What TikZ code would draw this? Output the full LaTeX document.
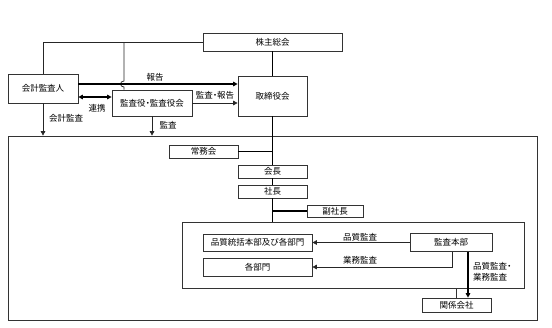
\documentclass[tikz,border=0pt]{standalone}
\usepackage{fontspec}
\setmainfont{Noto Sans CJK JP}
\usetikzlibrary{arrows.meta}
\newcommand{\fs}{\fontsize{8.5}{10.5}\selectfont}
\newcommand{\nd}{\makebox[0.5em]{・}}
\begin{document}
\begin{tikzpicture}[x=1pt,y=-1pt,
  box/.style={draw=black!80, line width=0.7pt, inner sep=0pt, font=\fs, align=center},
  conn/.style={line width=1.1pt},
  thinconn/.style={line width=0.75pt, draw=black!85},
  arr/.style={conn, -{Triangle[length=4.5pt,width=4.5pt]}},
  thinarr/.style={thinconn, -{Triangle[length=4.5pt,width=4.5pt]}},
  dblarr/.style={conn, {Triangle[length=4.5pt,width=4.5pt]}-{Triangle[length=4.5pt,width=4.5pt]}},
  lbl/.style={font=\fs, inner sep=0pt, align=left}]
\useasboundingbox (0,0) rectangle (552,327);
% frames
\node[box, minimum width=529pt, minimum height=184pt] (big) at (272.5,228) {};
\node[box, minimum width=342pt, minimum height=66pt] (inner) at (353,255) {};
% boxes
\node[box, minimum width=139pt, minimum height=18pt] (kabu) at (272.5,42) {株主総会};
\node[box, minimum width=70pt, minimum height=29pt] (kaikei) at (43,88.5) {会計監査人};
\node[box, minimum width=80pt, minimum height=26pt] (kansa) at (152,103) {監査役\nd 監査役会};
\node[box, minimum width=69pt, minimum height=40pt] (tori) at (272.5,96) {取締役会};
\node[box, minimum width=69pt, minimum height=13pt] (jomu) at (203.5,151.5) {常務会};
\node[box, minimum width=69pt, minimum height=13pt] (kaicho) at (272.5,171.5) {会長};
\node[box, minimum width=69pt, minimum height=13pt] (shacho) at (272.5,191.5) {社長};
\node[box, minimum width=56pt, minimum height=12pt] (fuku) at (335,211) {副社長};
\node[box, minimum width=109pt, minimum height=17pt] (hinshitsu) at (257.5,242.5) {品質統括本部及び各部門};
\node[box, minimum width=109pt, minimum height=18pt] (kakubu) at (257.5,267) {各部門};
\node[box, minimum width=82pt, minimum height=18pt] (honbu) at (451,242.5) {監査本部};
\node[box, minimum width=69pt, minimum height=14pt] (kankei) at (456.5,305) {関係会社};
% helper coordinates
\coordinate (y84) at (0,84);
\coordinate (y97) at (0,97);
\coordinate (hb) at (124,42);
\coordinate (hopA) at (124,81);
\coordinate (hopB) at (124,87);
% top connections
\draw[thinconn] (kabu.west) -| (kaikei.north);
\draw[thinconn] (hb) -- (hopA) .. controls (119.5,81) and (119.5,87) .. (hopB) -- (hb |- kansa.north);
\draw[arr] (kaikei.east |- y84) -- (tori.west |- y84);
\draw[dblarr] (kaikei.east |- y97) -- (kansa.west |- y97);
\draw[thinarr] (kansa.east) -- (kansa.east -| tori.west);
\draw[thinarr] (kaikei.south) -- (kaikei.south |- big.north);
\draw[thinarr] (kansa.south) -- (kansa.south |- big.north);
% main spine
\draw[conn] (kabu.south) -- (tori.north);
\draw[conn] (tori.south) -- (kaicho.north);
\draw[conn] (kaicho.south) -- (shacho.north);
\draw[conn] (shacho.south) -- (shacho.south |- inner.north);
\draw[conn] (jomu.east) -- (jomu.east -| tori.south);
\draw[conn] (fuku.west) -- (fuku.west -| shacho.south);
% audit division
\draw[thinarr] (honbu.west) -- (hinshitsu.east);
\draw[thinarr] ([xshift=1pt]honbu.south) |- (kakubu.east);
\draw[arr] ([xshift=17pt]honbu.south) -- ([xshift=17pt]honbu.south |- kankei.north);
\draw[line width=0.7pt, draw=black!80] (kankei.north |- inner.south) -- (kankei.north);
% labels
\node[lbl] (l1) at (155,77) {報告};
\node[lbl] (l2) at (97,108) {連携};
\node[lbl] (l3) at (215,95) {監査\nd 報告};
\node[lbl] (l4) at (66,118) {会計監査};
\node[lbl] (l5) at (168,125) {監査};
\node[lbl] (l6) at (360,237) {品質監査};
\node[lbl] (l7) at (360,260) {業務監査};
\node[lbl, anchor=west] (l8) at (473,272) {品質監査\nd\\業務監査};
\end{tikzpicture}
\end{document}
